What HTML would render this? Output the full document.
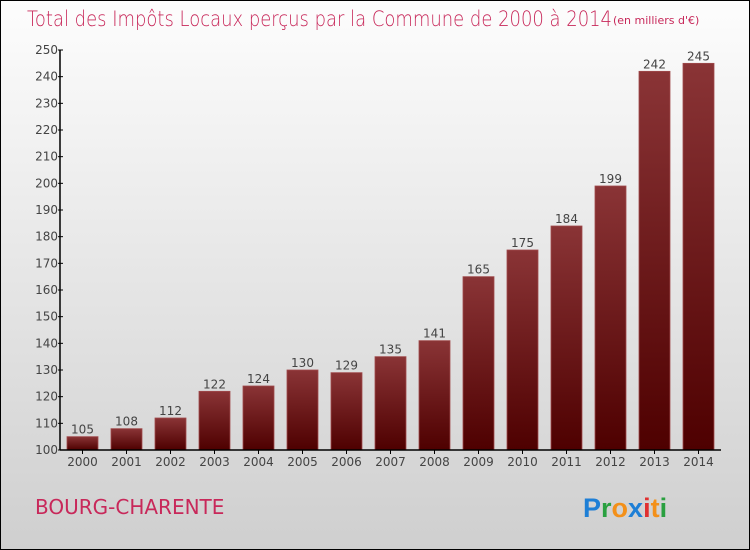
<!DOCTYPE html>
<html><head><meta charset="utf-8"><style>
body{margin:0}
#c{width:750px;height:550px;position:relative;overflow:hidden;font-family:"DejaVu Sans","Liberation Sans",sans-serif;}
</style></head><body>
<div id="c">
<svg width="750" height="550">
<defs>
<linearGradient id="bg" x1="0" y1="0" x2="0" y2="1"><stop offset="0" stop-color="#fdfdfd"/><stop offset="1" stop-color="#cfcfcf"/></linearGradient>
<linearGradient id="bar" x1="0" y1="0" x2="0" y2="1"><stop offset="0" stop-color="#8a3436"/><stop offset="1" stop-color="#4e0000"/></linearGradient>
</defs>
<rect x="0.5" y="0.5" width="749" height="549" fill="url(#bg)" stroke="#000"/>
<text x="27" y="26" font-size="21" fill="#c8285a" font-weight="200" textLength="585" lengthAdjust="spacingAndGlyphs">Total des Impôts Locaux perçus par la Commune de 2000 à 2014</text>
<text x="613" y="24" font-size="11" fill="#c8285a">(en milliers d'€)</text>
<g id="yaxis"></g>
<g id="bars"></g>
<g id="xaxis"></g>
<text x="35" y="514" font-size="20" fill="#c8285a">BOURG-CHARENTE</text>
<g font-size="27" font-weight="bold" font-family="'Liberation Sans',sans-serif">
<text x="583" y="517"><tspan fill="#1e7fd6">P</tspan><tspan fill="#2aa040">r</tspan><tspan fill="#f39019">o</tspan><tspan fill="#1e7fd6">x</tspan><tspan fill="#e03030">i</tspan><tspan fill="#f39019">t</tspan><tspan fill="#2aa040">i</tspan></text>
</g>
</svg>
</div>
<script>
const years=[2000,2001,2002,2003,2004,2005,2006,2007,2008,2009,2010,2011,2012,2013,2014];
const values=[105,108,112,122,124,130,129,135,141,165,175,184,199,242,245];
const yTicks=[100,110,120,130,140,150,160,170,180,190,200,210,220,230,240,250];
const NS='http://www.w3.org/2000/svg';
const yMin=100,yMax=250,plotTop=50,plotBottom=450,plotLeft=60,plotRight=721;
function yScale(v){return plotBottom-(v-yMin)/(yMax-yMin)*(plotBottom-plotTop);}
const step=44,bw=31;
function xScale(i){return 67+i*step;}
function mk(t,a,p){const e=document.createElementNS(NS,t);for(const k in a)e.setAttribute(k,a[k]);p.appendChild(e);return e;}
const ya=document.getElementById('yaxis'),ba=document.getElementById('bars'),xa=document.getElementById('xaxis');
let l=mk('line',{x1:plotLeft,y1:plotTop,x2:plotLeft,y2:plotBottom,stroke:'#000','stroke-width':1.5},ya);


yTicks.forEach(t=>{
 const tk=mk('line',{x1:plotLeft-2,x2:plotLeft+3,y1:yScale(t),y2:yScale(t),stroke:'#000'},ya);
 
 
 const tx=mk('text',{x:plotLeft-2,y:yScale(t)+4,'text-anchor':'end','font-size':12,fill:'#444'},ya);
 tx.textContent=t;
 
 
});
l=mk('line',{x1:plotLeft,y1:plotBottom,x2:plotRight,y2:plotBottom,stroke:'#000','stroke-width':1.5},xa);


years.forEach((yr,i)=>{
 const r=mk('rect',{x:xScale(i),y:yScale(values[i]),width:bw,height:plotBottom-yScale(values[i]),fill:'url(#bar)',stroke:'#a04a4c','stroke-width':0.8},ba);
 
 
 const v=mk('text',{x:xScale(i)+bw/2,y:yScale(values[i])-3,'text-anchor':'middle','font-size':12,fill:'#444'},ba);
 v.textContent=values[i];
 
 
 const tk=mk('line',{x1:xScale(i)+bw/2,x2:xScale(i)+bw/2,y1:plotBottom,y2:plotBottom+4,stroke:'#000'},xa);
 
 
 const t=mk('text',{x:xScale(i)+bw/2,y:plotBottom+16,'text-anchor':'middle','font-size':12,fill:'#444'},xa);
 t.textContent=yr;
 
 
});
</script>
</body></html>
